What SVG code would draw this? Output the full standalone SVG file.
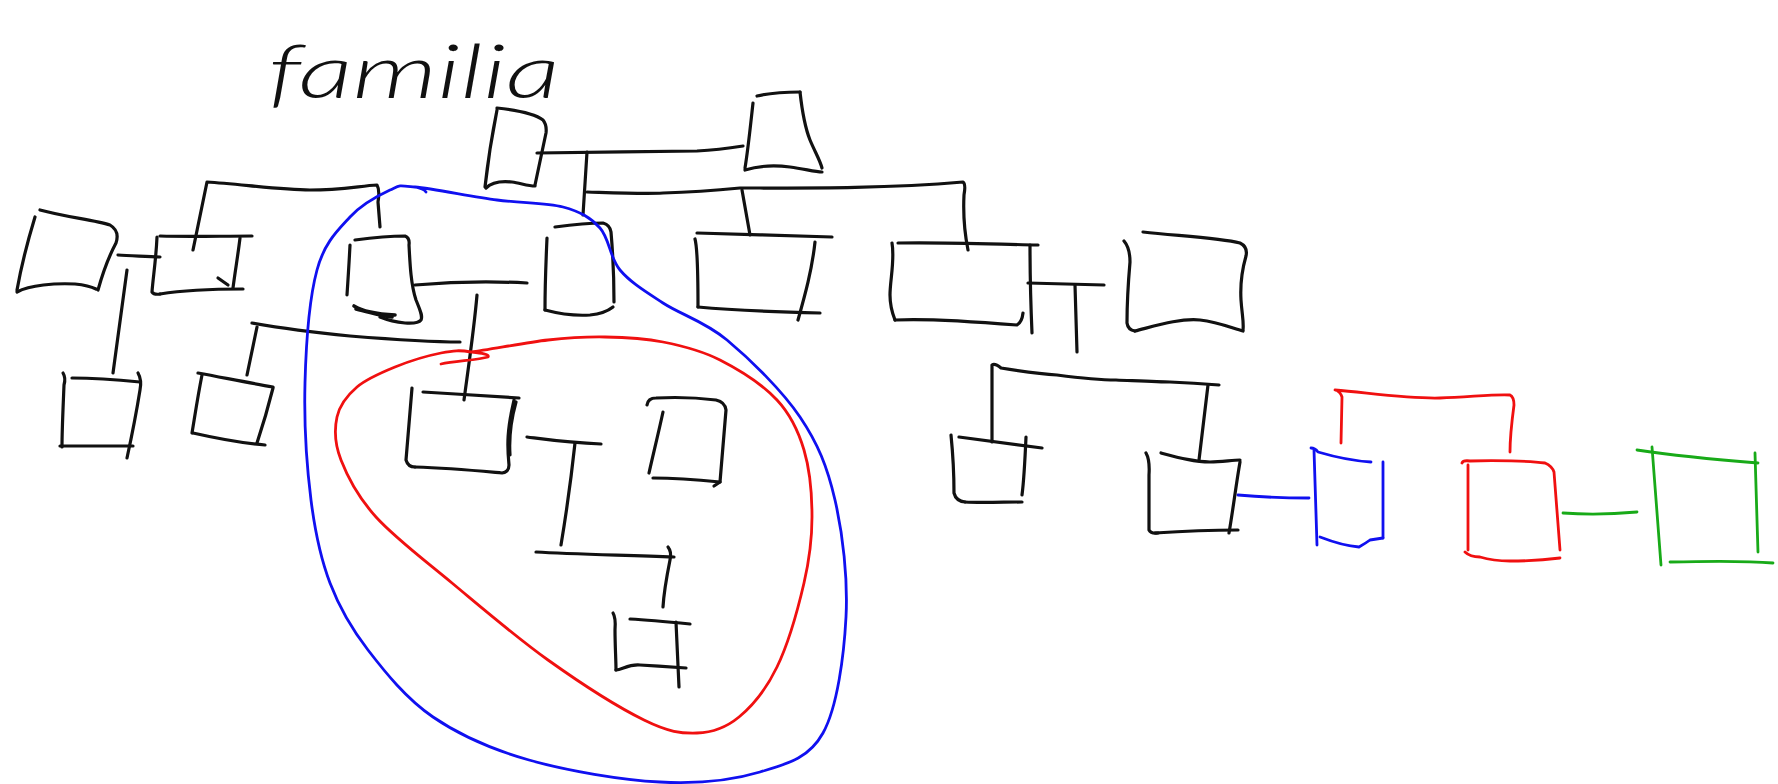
<svg xmlns="http://www.w3.org/2000/svg" width="1778" height="784" viewBox="0 0 1778 784">
<style>
.k{fill:none;stroke:#111;stroke-width:3.2;stroke-linecap:round;stroke-linejoin:round}
.b{stroke:#1010f0;stroke-width:2.8}
.r{stroke:#f01010;stroke-width:2.8}
.g{stroke:#18aa18;stroke-width:2.8}
.t{font-family:Lato,"Liberation Sans","DejaVu Sans",sans-serif;font-weight:300;font-style:italic;fill:#111}
</style>
<rect width="1778" height="784" fill="#fff"/>
<text class="t" x="268" y="98" font-size="74" textLength="292" lengthAdjust="spacingAndGlyphs">familia</text>

<g id="connectors" class="k">
<path d="M537,153 C580,152 650,152 697,151 C715,150 730,148 743,146"/>
<path d="M587,152 L583,215"/>
<path d="M587,192 C620,193 645,194 663,193 C700,192 720,190 740,188 C800,188 880,189 963,182 Q966,184 964,195 C963,215 965,235 968,250"/>
<path d="M742,190 L750,235"/>
<path d="M1028,283 L1104,285"/>
<path d="M1075,285 L1077,352"/>
<path d="M118,255 C130,256 145,256 160,257"/>
<path d="M127,270 L113,373"/>
<path d="M193,250 L207,182 C240,184 280,190 310,190 C340,190 360,186 377,185 Q380,190 378,202 L380,227"/>
<path d="M415,285 C450,282 490,281 527,283"/>
<path d="M477,295 C474,330 468,370 464,400"/>
<path d="M252,323 C280,328 310,332 350,336 C400,340 430,342 460,342"/>
<path d="M257,327 L247,375"/>
<path d="M527,437 C550,440 570,443 601,444"/>
<path d="M575,443 C571,480 566,515 561,545"/>
<path d="M536,552 C570,554 620,555 674,557"/>
<path d="M668,547 Q672,552 670,560 C667,575 664,590 663,607"/>
<path d="M992,442 L992,365 Q995,363 1001,368 C1020,371 1040,374 1057,375 C1080,378 1100,380 1116,380 C1140,381 1160,382 1170,382 C1190,383 1205,384 1219,385"/>
<path d="M1208,385 C1205,410 1202,435 1199,460"/>
<path class="b" d="M1238,495 C1260,497 1285,498 1309,498"/>
<path class="r" d="M1341,443 L1342,397 Q1340,391 1335,390 C1370,393 1410,399 1440,398 C1470,397 1495,394 1510,395 Q1514,397 1514,405 C1512,420 1510,438 1510,452"/>
<path class="g" d="M1563,513 C1590,515 1615,514 1637,512"/>
</g>

<g id="nodeA" class="k">
<path d="M497,108 C515,110 535,114 543,120 Q547,125 546,133 L535,185"/>
<path d="M497,110 C492,135 488,160 485,187"/>
<path d="M486,188 C492,182 503,181 512,182 C520,183 528,186 535,186"/>
</g>
<g id="nodeB" class="k">
<path d="M757,96 C770,93 790,92 800,92"/>
<path d="M800,92 C802,110 804,125 810,140 C815,152 820,160 822,168"/>
<path d="M753,103 C750,130 748,150 745,168"/>
<path d="M745,170 C758,166 775,165 790,167 C805,169 815,172 822,172"/>
</g>
<g id="nodeC" class="k">
<path d="M40,210 C65,217 95,220 110,225 Q120,231 116,243 C108,258 103,272 98,290"/>
<path d="M35,217 C28,240 22,262 17,290"/>
<path d="M17,292 C30,285 55,283 75,284 C85,285 92,287 96,289"/>
</g>
<g id="nodeD" class="k">
<path d="M160,236 C190,237 220,236 252,236"/>
<path d="M157,237 C156,260 153,278 152,292 Q154,295 160,294"/>
<path d="M160,294 C185,290 215,289 243,289"/>
<path d="M240,238 C238,255 235,272 233,288"/>
<path d="M218,278 L228,285"/>
</g>
<g id="nodeE" class="k">
<path d="M355,240 C370,238 390,236 405,236 Q410,238 409,245 C410,265 411,285 416,300 C420,310 423,316 421,320 Q418,324 405,323 C395,322 385,319 380,317"/>
<path d="M350,245 C349,265 348,280 347,295"/>
<path d="M354,306 C362,311 375,314 395,315 M356,309 C370,312 380,316 392,317" stroke-width="3.6"/>
</g>
<g id="nodeF" class="k">
<path d="M555,227 C570,225 590,223 603,223 Q610,225 611,232 C613,255 614,280 614,302"/>
<path d="M547,238 C546,260 545,290 545,310"/>
<path d="M545,310 C560,314 575,316 590,315 C600,314 608,311 613,307"/>
</g>
<g id="nodeL" class="k">
<path d="M697,233 C740,234 790,236 832,237"/>
<path d="M695,239 C698,250 698,290 698,307"/>
<path d="M698,307 C730,310 780,312 820,313"/>
<path d="M815,242 C812,270 805,295 798,320"/>
</g>
<g id="nodeM" class="k">
<path d="M898,243 C940,242 990,244 1038,245"/>
<path d="M892,243 C895,260 890,280 890,295 C890,305 893,315 895,320"/>
<path d="M895,320 C930,318 980,322 1017,325 Q1022,322 1023,313"/>
<path d="M1030,245 C1030,280 1031,310 1032,333"/>
</g>
<g id="nodeN" class="k">
<path d="M1143,232 C1180,236 1220,238 1240,243 Q1248,247 1246,256 C1242,270 1240,283 1241,300 C1242,315 1244,322 1243,330"/>
<path d="M1124,241 Q1130,248 1130,262 C1128,285 1127,305 1127,323 Q1128,330 1135,331"/>
<path d="M1135,331 C1155,326 1180,318 1200,320 C1218,322 1232,328 1243,331"/>
</g>
<g id="nodeI" class="k">
<path d="M72,378 C95,378 120,380 140,382"/>
<path d="M63,373 Q66,378 64,385 C63,410 62,430 62,447"/>
<path d="M60,446 C85,446 110,446 133,446"/>
<path d="M138,373 Q142,380 140,390 C136,415 132,435 127,458"/>
</g>
<g id="nodeH" class="k">
<path d="M198,373 C225,378 250,383 273,387"/>
<path d="M273,388 C268,408 262,428 257,443"/>
<path d="M202,375 C198,395 195,415 192,433"/>
<path d="M193,433 C215,438 240,443 265,445"/>
</g>
<g id="nodeG" class="k">
<path d="M423,392 C455,394 490,396 519,398"/>
<path d="M412,388 C410,410 408,435 406,460 Q408,467 415,467"/>
<path d="M415,467 C450,468 480,471 502,473 Q509,472 509,465 C507,445 507,430 514,400"/>
<path d="M516,402 C511,420 509,440 510,455"/>
</g>
<g id="nodeJ" class="k">
<path d="M647,405 Q648,398 656,398 C675,397 700,398 716,400 Q725,402 726,410 C724,435 722,460 720,482"/>
<path d="M663,412 C658,435 653,455 649,473"/>
<path d="M653,478 C675,478 700,480 720,482 L714,486"/>
</g>
<g id="nodeK" class="k">
<path d="M613,613 Q616,618 615,630 C615,645 616,660 616,670"/>
<path d="M630,619 C650,620 670,622 690,624"/>
<path d="M676,622 C677,645 678,665 679,687"/>
<path d="M616,670 C622,670 628,664 640,665 C655,666 672,667 686,668"/>
</g>
<g id="nodeP" class="k">
<path d="M959,437 C980,440 1010,444 1042,448"/>
<path d="M951,435 C953,455 954,475 954,493 Q956,501 965,502"/>
<path d="M965,502 C980,503 1005,502 1022,502"/>
<path d="M1026,437 C1025,460 1024,480 1022,495"/>
</g>
<g id="nodeQ" class="k">
<path d="M1161,453 C1180,458 1195,462 1210,462 C1222,462 1232,460 1240,460"/>
<path d="M1146,453 Q1150,460 1149,475 C1149,495 1149,515 1149,530 Q1151,534 1158,533"/>
<path d="M1155,533 C1185,531 1215,530 1238,530"/>
<path d="M1240,462 C1236,485 1233,510 1229,533"/>
</g>
<g id="nodeR" class="k b">
<path d="M1311,448 Q1315,448 1318,452 C1335,457 1355,461 1371,462"/>
<path d="M1314,450 C1315,480 1316,515 1317,545"/>
<path d="M1383,462 C1383,490 1383,515 1383,538"/>
<path d="M1320,537 C1333,542 1345,546 1359,547 Q1366,543 1370,540 L1383,538"/>
</g>
<g id="nodeS" class="k r">
<path d="M1462,463 Q1463,460 1470,461 C1495,460 1530,461 1545,463 Q1552,466 1554,472 C1556,500 1558,525 1560,550"/>
<path d="M1468,465 C1468,490 1468,520 1468,550"/>
<path d="M1465,552 Q1470,557 1480,557 C1490,560 1500,561 1510,561 C1530,561 1545,560 1560,558"/>
</g>
<g id="nodeT" class="k g">
<path d="M1637,450 C1670,455 1720,460 1758,463"/>
<path d="M1652,447 C1655,490 1658,530 1661,565"/>
<path d="M1755,453 C1756,490 1757,520 1758,552"/>
<path d="M1670,562 C1710,561 1750,561 1773,563"/>
</g>

<g id="groupings" class="k">
<path class="b" d="M415,187 C432.8,188.7 472.3,196.7 497,200 C521.7,203.3 545.8,202.3 563,207 C580.2,211.7 590.5,217.5 600,228 C609.5,238.5 609.5,257.5 620,270 C630.5,282.5 645.2,291.3 663,303 C680.8,314.7 704.2,321 727,340 C749.8,359 782,390.3 800,417 C818,443.7 827.3,466.7 835,500 C842.7,533.3 848,578.2 846,617 C844,655.8 837.3,707.2 823,733 C808.7,758.8 787.2,763.8 760,772 C732.8,780.2 698.5,784 660,782 C621.5,780 566.8,770.8 529,760 C491.2,749.2 459.8,735.3 433,717 C406.2,698.7 385.2,672.3 368,650 C350.8,627.7 339.5,608 330,583 C320.5,558 315.2,533.3 311,500 C306.8,466.7 304,421.3 305,383 C306,344.7 309.5,297.7 317,270 C324.5,242.3 337.8,230.3 350,217 C362.2,203.7 379.2,195 390,190 C400.8,185 397.2,185.3 415,187 C420,188 424,189 426,192"/>
<path class="r" d="M471,352 C488.8,349.8 525.7,342.5 548,340 C570.3,337.5 585.8,336.7 605,337 C624.2,337.3 643.8,338.2 663,342 C682.2,345.8 701,350.3 720,360 C739,369.7 763,385 777,400 C791,415 798.2,430.5 804,450 C809.8,469.5 812,494.8 812,517 C812,539.2 809.8,558 804,583 C798.2,608 787.8,644.7 777,667 C766.2,689.3 752.3,706 739,717 C725.7,728 712.8,732.5 697,733 C681.2,733.5 668.8,732.2 644,720 C619.2,707.8 580,682.8 548,660 C516,637.2 480.7,606.8 452,583 C423.3,559.2 394.5,537.5 376,517 C357.5,496.5 347.5,476.7 341,460 C334.5,443.3 334.3,429.2 337,417 C339.7,404.8 347.3,395.3 357,387 C366.7,378.7 381,372.7 395,367 C409,361.3 428.3,355.5 441,353 C453.7,350.5 460,350 471,352 C480,353 490,354 488,357 C478,360 455,361 441,364"/>
</g>
</svg>
